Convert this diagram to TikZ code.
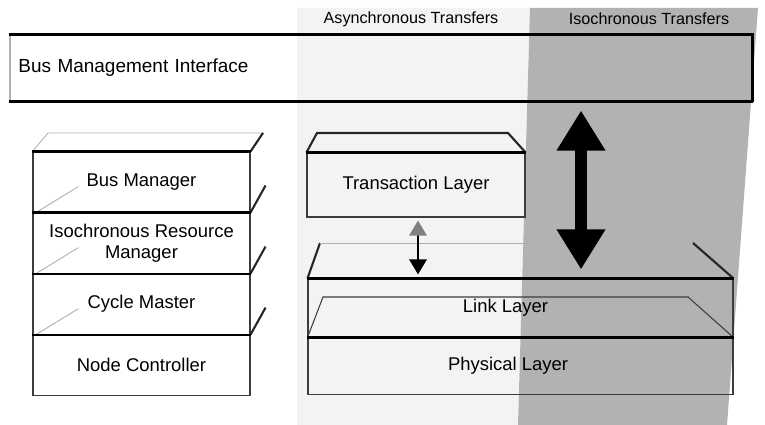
\documentclass[tikz,border=0pt]{standalone}
\usepackage{fontspec}
\setmainfont{Liberation Sans}
\usetikzlibrary{arrows.meta, positioning}
\definecolor{asyncGray}{RGB}{243,243,243}
\definecolor{isoGray}{RGB}{178,178,178}
\definecolor{edgeGray}{RGB}{60,60,60}
\definecolor{faintGray}{RGB}{175,175,175}

\begin{document}
\begin{tikzpicture}[
  layerbox/.style={draw=edgeGray, line width=0.6pt, inner sep=2pt, align=center,
    font=\fontsize{10.5}{12}\selectfont, minimum width=4.34cm, minimum height=1.2cm},
  stackbox/.style={layerbox, fill=white},
  topedge/.style={black, line width=1.2pt},
  backedge/.style={faintGray, line width=0.5pt},
  slant/.style={black!85, line width=1.2pt},
  xferlabel/.style={font=\fontsize{9.2}{11}\selectfont}
]
\useasboundingbox (0,0) rectangle (15.3,8.5);
% transfer columns
\fill[asyncGray] (5.94,8.34) -- (10.6,8.34) -- (10.36,0) -- (5.94,0) -- cycle;
\fill[isoGray] (10.6,8.34) -- (15.16,8.34) -- (14.54,0) -- (10.36,0) -- cycle;
\node[xferlabel] (async) at (8.22,8.12) {Asynchronous Transfers};
\node[xferlabel] (iso) at (12.98,8.12) {Isochronous Transfers};

% bus management interface
\node[draw=faintGray, line width=0.6pt, minimum width=14.84cm, minimum height=1.32cm,
  text width=14.5cm, align=left, font=\fontsize{10.8}{12}\selectfont]
  (bmi) at (7.62,7.14) {Bus Management Interface};
\draw[topedge] (bmi.north west) -- (bmi.north east) -- (bmi.south east);
\draw[topedge] (bmi.south west) -- (bmi.south east);

% node stack
\node[stackbox] (busmgr) at (2.83,4.86) {Bus Manager};
\node[stackbox, below=0pt of busmgr] (irm) {Isochronous Resource\\Manager};
\node[stackbox, below=0pt of irm] (cyclemaster) {Cycle Master};
\node[stackbox, below=0pt of cyclemaster] (nodectrl) {Node Controller};
\draw[backedge] (busmgr.north west) -- (0.96,5.84) -- (5.26,5.84);
\draw[slant] (busmgr.north east) -- (5.26,5.84);
\foreach \n in {irm,cyclemaster,nodectrl}
  \draw[slant] (\n.north east) -- ++(0.3,0.54);
\foreach \n in {busmgr,irm,cyclemaster}
  \draw[backedge] ([xshift=2pt]\n.south west) -- ++(0.85,0.52);
\foreach \n in {busmgr,irm,cyclemaster,nodectrl}
  \draw[topedge] (\n.north west) -- (\n.north east);

% transaction layer
\node[layerbox, minimum width=4.36cm, minimum height=1.28cm] (trans) at (8.32,4.8)
  {Transaction Layer};
\draw[slant] (trans.north west) -- (6.34,5.84) -- (10.16,5.84) -- (trans.north east);
\draw[topedge] (trans.north west) -- (trans.north east);

% link and physical layer
\node[layerbox, minimum width=8.5cm, minimum height=1.16cm] (link) at (10.41,2.34)
  {\hspace*{-0.6cm}Link Layer};
\node[layerbox, minimum width=8.5cm, minimum height=1.12cm, below=0pt of link] (phys)
  {\hspace*{-0.5cm}Physical Layer};
\draw[slant] (link.north west) -- (6.4,3.64);
\draw[backedge] (6.4,3.64) -- (13.86,3.64);
\draw[slant] (link.north east) -- (13.86,3.64);
\draw[edgeGray, line width=0.6pt] (phys.north west) -- (6.46,2.56) -- (13.76,2.56)
  -- (phys.north east);
\draw[topedge] (link.north west) -- (link.north east);
\draw[topedge] (phys.north west) -- (phys.north east);

% transfers
\coordinate (smallx) at (8.36,0);
\coordinate (bigx) at (11.62,0);
\draw[line width=1.7pt, shorten <=0.06cm, shorten >=0.08cm,
  {Triangle[width=0.34cm,length=0.3cm,color=gray]}-{Triangle[width=0.34cm,length=0.3cm]}]
  (trans.south -| smallx) -- (link.north -| smallx);
\draw[line width=7pt, shorten <=0.18cm, shorten >=0.18cm,
  {Triangle[width=0.92cm,length=0.8cm]}-{Triangle[width=0.92cm,length=0.8cm]}]
  (bmi.south -| bigx) -- (link.north -| bigx);
\end{tikzpicture}
\end{document}
